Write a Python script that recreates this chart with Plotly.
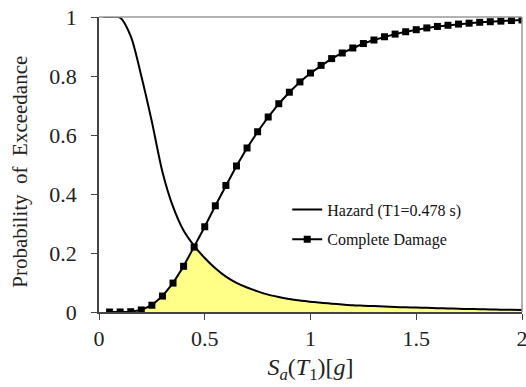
import plotly.graph_objects as go

# Sa(T1) grid [g]
sa = [0.05, 0.10, 0.15, 0.20, 0.25, 0.30, 0.35, 0.40, 0.45, 0.50,
      0.55, 0.60, 0.65, 0.70, 0.75, 0.80, 0.85, 0.90, 0.95, 1.00,
      1.05, 1.10, 1.15, 1.20, 1.25, 1.30, 1.35, 1.40, 1.45, 1.50,
      1.55, 1.60, 1.65, 1.70, 1.75, 1.80, 1.85, 1.90, 1.95, 2.00]

# Complete damage fragility (probability of exceedance)
damage = [0.000, 0.0001, 0.001, 0.007, 0.023, 0.054, 0.098, 0.155, 0.220, 0.289,
          0.360, 0.429, 0.495, 0.556, 0.611, 0.661, 0.706, 0.745, 0.780, 0.810,
          0.836, 0.859, 0.878, 0.895, 0.910, 0.922, 0.933, 0.942, 0.950, 0.957,
          0.963, 0.968, 0.972, 0.976, 0.979, 0.982, 0.984, 0.986, 0.988, 0.990]

# Hazard curve (T1 = 0.478 s)
hazard = [1.000, 0.998, 0.935, 0.800, 0.645, 0.475, 0.357, 0.276, 0.224, 0.183,
          0.148, 0.120, 0.099, 0.083, 0.070, 0.059, 0.051, 0.044, 0.039, 0.035,
          0.031, 0.028, 0.0255, 0.023, 0.0215, 0.020, 0.0185, 0.017, 0.016, 0.015,
          0.014, 0.013, 0.012, 0.011, 0.0102, 0.0095, 0.0088, 0.008, 0.0075, 0.007]
hazard_x0 = [0.02]
hazard_y0 = [1.0]

x_ticks = [0, 0.5, 1, 1.5, 2]
x_tick_text = ["0", "0.5", "1", "1.5", "2"]
y_ticks = [0, 0.2, 0.4, 0.6, 0.8, 1]
y_tick_text = ["0", "0.2", "0.4", "0.6", "0.8", "1"]

overlap = [min(d, h) for d, h in zip(damage, hazard)]

SERIF = "Liberation Serif, serif"

fig = go.Figure()
fig.add_trace(go.Scatter(x=sa, y=overlap, mode="lines", line=dict(width=0),
                         fill="tozeroy", fillcolor="rgb(255,255,135)",
                         showlegend=False, hoverinfo="skip"))
fig.add_trace(go.Scatter(x=hazard_x0 + sa, y=hazard_y0 + hazard, mode="lines",
                         line=dict(color="black", width=2, shape="spline", smoothing=0.8),
                         name="Hazard (T1=0.478 s)", legendgroup="a"))
fig.add_trace(go.Scatter(x=sa, y=damage, mode="lines+markers",
                         line=dict(color="black", width=2),
                         marker=dict(symbol="square", size=7, color="black"),
                         name="Complete Damage", legendgroup="b"))

fig.update_layout(
    width=526, height=387,
    margin=dict(l=99, r=4, t=17, b=75),
    plot_bgcolor="white", paper_bgcolor="white",
    font=dict(family=SERIF, color="black"),
    legend=dict(x=0.445, y=0.405, xanchor="left", yanchor="top",
                font=dict(family=SERIF, size=16, color="#111"),
                bgcolor="rgba(0,0,0,0)", itemwidth=30,
                traceorder="grouped", tracegroupgap=6),
    xaxis=dict(range=[0, 2], tickvals=x_ticks, ticktext=x_tick_text,
               automargin=False, ticklabeloverflow="allow",
               showgrid=False, zeroline=False, showline=True, linecolor="#444",
               linewidth=1.5, ticks="outside", ticklen=6, tickcolor="#444",
               tickfont=dict(family=SERIF, size=22, color="#222"),
               title=dict(text="<i>S</i><sub><i>a</i></sub>(<i>T</i><sub>1</sub>)[<i>g</i>]",
                          font=dict(family=SERIF, size=24, color="#222"), standoff=8)),
    yaxis=dict(range=[0, 1], tickvals=y_ticks, ticktext=y_tick_text,
               automargin=False, ticklabeloverflow="allow",
               showgrid=False, zeroline=False, showline=True, linecolor="#444",
               linewidth=1.5, ticks="outside", ticklen=6, tickcolor="#444",
               ticklabelstandoff=10,
               tickfont=dict(family=SERIF, size=22, color="#222")),
    annotations=[
        dict(text="Probability  of  Exceedance", textangle=-90,
             xref="paper", yref="paper", x=-0.187, y=0.475,
             xanchor="center", yanchor="middle", showarrow=False,
             font=dict(family=SERIF, size=21, color="#222")),
    ],
    shapes=[
        dict(type="line", xref="paper", yref="paper", x0=0, x1=1, y0=1, y1=1,
             line=dict(color="#999", width=1.5)),
        dict(type="line", xref="paper", yref="paper", x0=1, x1=1, y0=0, y1=1,
             line=dict(color="#999", width=1.5)),
    ],
)

fig.write_html("out.html")
